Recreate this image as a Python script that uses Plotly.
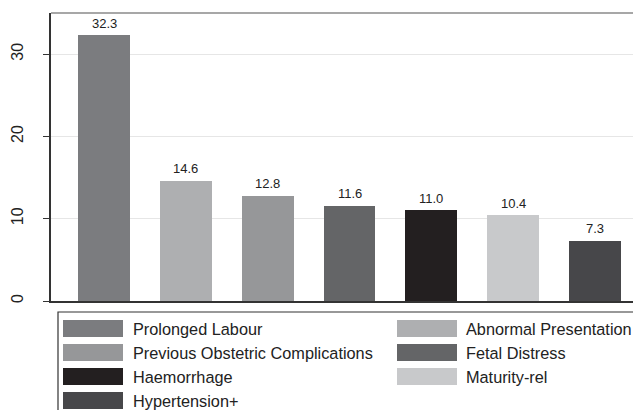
import plotly.graph_objects as go

categories = ["Prolonged Labour", "Abnormal Presentation", "Previous Obstetric Complications",
              "Fetal Distress", "Haemorrhage", "Maturity-rel", "Hypertension+"]
values = [32.3, 14.6, 12.8, 11.6, 11.0, 10.4, 7.3]
colors = ["#7b7c7f", "#aeafb1", "#969799", "#646567", "#231f20", "#c8c9cb", "#47474a"]
y_ticks = [0, 10, 20, 30]

# page is rendered with the default 8px body margin
OFF = 8
W, H = 641 - OFF, 410 - OFF
ML, MT, MB, MR = 51 - OFF, 13 - OFF, 109, 0
PW, PH = W - ML - MR, H - MT - MB
FONT = "Liberation Sans, Arial, sans-serif"


def px_x(px):
    """page pixel x -> paper coordinate"""
    return (px - OFF - ML) / PW


def px_y(py):
    """page pixel y -> paper coordinate"""
    return (OFF + MT + PH - py) / PH


fig = go.Figure()
for i, (cat, v, c) in enumerate(zip(categories, values, colors)):
    fig.add_trace(go.Bar(x=[i], y=[v], name=cat, marker=dict(color=c, line=dict(width=0)),
                         width=0.635, showlegend=False))
    fig.add_annotation(x=i, y=v, text=f"{v:.1f}", showarrow=False, yshift=12,
                       yanchor="middle", font=dict(size=13, color="#222", family=FONT))

shapes = []
# top border of plot region
shapes.append(dict(type="line", xref="paper", yref="paper", x0=0, x1=1.05, y0=1, y1=1,
                   line=dict(color="#8a8a8a", width=1.5)))
# legend box
shapes.append(dict(type="rect", xref="paper", yref="paper", x0=px_x(58), x1=px_x(641 + 20),
                   y0=px_y(312), y1=px_y(410 + 30), line=dict(color="#333", width=1.2),
                   fillcolor="rgba(0,0,0,0)"))

sw_x = [63, 397]
tx_x = [131, 464]
for idx, (cat, c) in enumerate(zip(categories, colors)):
    row, col = idx // 2, idx % 2
    yc = 328.5 + 24 * row
    shapes.append(dict(type="rect", xref="paper", yref="paper",
                       x0=px_x(sw_x[col]), x1=px_x(sw_x[col] + 60),
                       y0=px_y(yc - 8.5), y1=px_y(yc + 8.5),
                       line=dict(width=0), fillcolor=c))
    fig.add_annotation(xref="paper", yref="paper", x=px_x(tx_x[col]), y=px_y(yc),
                       text=cat, showarrow=False, xanchor="left", yanchor="middle",
                       font=dict(size=16.3, color="#222", family=FONT))

fig.update_layout(
    width=W, height=H,
    margin=dict(l=ML, r=MR, t=MT, b=MB, pad=0),
    paper_bgcolor="white", plot_bgcolor="white",
    font=dict(family=FONT, color="#222"),
    shapes=shapes,
    bargap=0,
    xaxis=dict(range=[-0.6477, 6.562], showticklabels=False, ticks="", showgrid=False,
               zeroline=False, showline=True, linecolor="#333", linewidth=1.5),
    yaxis=dict(range=[0, 35], tickvals=y_ticks, ticktext=[str(t) for t in y_ticks],
               tickangle=-90, ticks="outside", ticklen=6, tickcolor="#333", tickwidth=1,
               tickfont=dict(size=16, color="#222", family=FONT),
               showgrid=True, gridcolor="#e6e6e6", gridwidth=1.2,
               zeroline=False, showline=True, linecolor="#333", linewidth=1.5,
               ticklabelstandoff=14),
)

fig.write_html("out.html")
